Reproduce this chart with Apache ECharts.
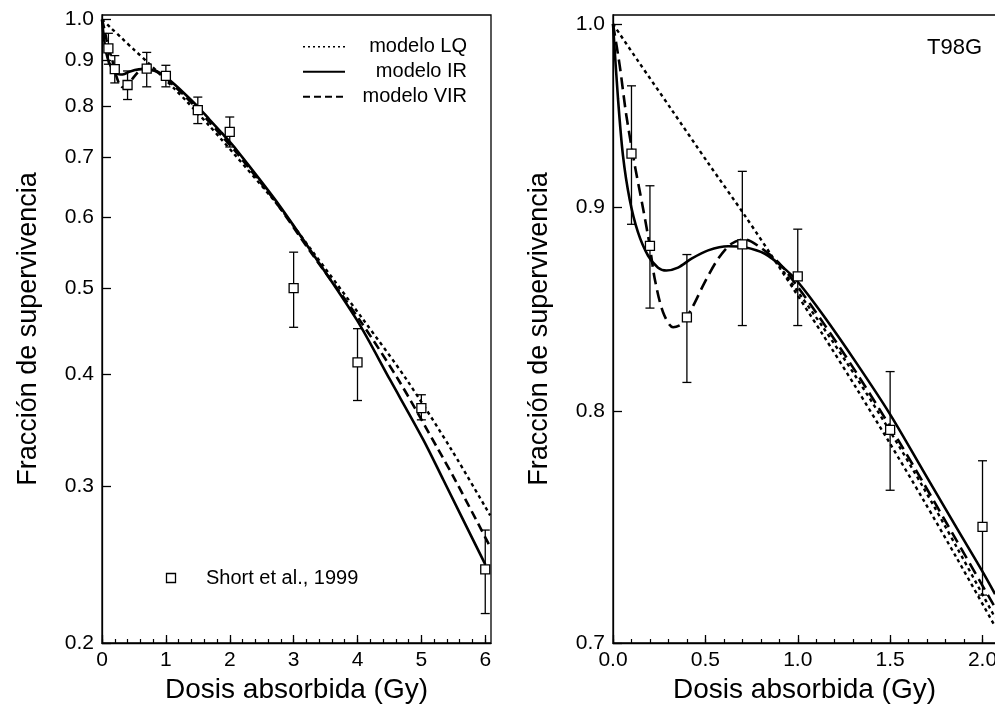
<!DOCTYPE html>
<html><head><meta charset="utf-8">
<script src="https://cdn.jsdelivr.net/npm/echarts@6/dist/echarts.min.js"></script>
<style>html,body{margin:0;padding:0;background:#fff}#c{width:995px;height:710px}</style>
</head><body><div id="c"></div>
<script>
// ---- Experimental data (Short et al., 1999) ----
const doseData  = [0.1, 0.2, 0.4, 0.7, 1.0, 1.5, 2.0, 3.0, 4.0, 5.0, 6.0];
const survData  = [0.928, 0.880, 0.8445, 0.8807, 0.8647, 0.7915, 0.7484, 0.500, 0.4126, 0.3667, 0.2418];
const survUpper = [0.965, 0.911, 0.8756, 0.9186, 0.8885, 0.8185, 0.7775, 0.5485, 0.4502, 0.3796, 0.2677];
const survLower = [0.891, 0.849, 0.8134, 0.8405, 0.8405, 0.7644, 0.7196, 0.4518, 0.374, 0.3558, 0.2158];

// ---- Model curves ----
const irDose = [0, 0.027, 0.054, 0.09, 0.135, 0.19, 0.244, 0.289, 0.352, 0.425, 0.515, 0.623, 0.713, 0.822, 0.93, 1.0, 1.138, 1.318, 1.499, 1.679, 1.86, 2.004, 2.068, 2.707, 3.255, 3.987, 4.509, 5.031, 5.345, 6.0];
const irSurv = [1.0, 0.958, 0.927, 0.904, 0.887, 0.875, 0.869, 0.8676, 0.869, 0.8735, 0.8777, 0.8798, 0.8793, 0.876, 0.8684, 0.862, 0.8455, 0.8225, 0.7987, 0.773, 0.748, 0.7289, 0.72, 0.6286, 0.5523, 0.4608, 0.3946, 0.3379, 0.3046, 0.245];

const virDose = [0, 0.036, 0.072, 0.118, 0.163, 0.199, 0.226, 0.271, 0.325, 0.37, 0.425, 0.497, 0.569, 0.641, 0.713, 0.786, 0.894, 1.002, 1.138, 1.318, 1.499, 1.679, 1.86, 2.068, 2.707, 3.255, 4.03, 4.64, 5.27, 5.53, 6.077];
const virSurv = [1.0, 0.9766, 0.9488, 0.9218, 0.899, 0.880, 0.8634, 0.847, 0.8397, 0.8412, 0.8486, 0.8618, 0.8735, 0.8811, 0.8833, 0.880, 0.8718, 0.8592, 0.8418, 0.8179, 0.7931, 0.7678, 0.7425, 0.7145, 0.626, 0.550, 0.4608, 0.3946, 0.329, 0.3046, 0.2564];

const lqDose = [0, 0.135, 0.316, 0.515, 0.713, 0.912, 1.138, 1.318, 1.499, 1.679, 1.86, 2.068, 2.707, 3.255, 4.09, 4.77, 5.476, 6.077];
const lqSurv = [1.0, 0.979, 0.952, 0.923, 0.8956, 0.8675, 0.8358, 0.8106, 0.7853, 0.7603, 0.7352, 0.7067, 0.625, 0.5545, 0.4608, 0.3946, 0.329, 0.278];

const lqAltDose = [0.9, 1.138, 1.318, 1.499, 1.679, 1.86, 2.068];
const lqAltSurv = [0.870, 0.8395, 0.8156, 0.7909, 0.7657, 0.7398, 0.7103];

// ---- Tick labels ----
const leftXTicks  = [0, 1, 2, 3, 4, 5, 6];
const rightXTicks = [0, 0.5, 1.0, 1.5, 2.0];
const leftYTicks  = [0.2, 0.3, 0.4, 0.5, 0.6, 0.7, 0.8, 0.9, 1.0];
const rightYTicks = [0.7, 0.8, 0.9, 1.0];

const FONT = 'Liberation Sans, Arial, sans-serif';
const LX_MAX = 6.09, RX_MAX = 2.073;
const LY_MIN = 0.2, LY_MAX = 1.0117, RY_MIN = 0.7, RY_MAX = 1.0052;

const pairs = (xs, ys, xmax) => xs.map((x, i) => [x, Math.log(ys[i])]).filter(p => p[0] <= xmax + 0.2);
const minorTicks = (step, n) => { const a = []; for (let i = 0; i <= n; i++) a.push(+(i * step).toFixed(3)); return a; };

const black = '#000';
function xAxes(gi, max, ticks, minorStep, minorN, fmt) {
  return [{
    gridIndex: gi, type: 'value', min: 0, max: max, position: 'bottom',
    axisLine: { onZero: false, lineStyle: { color: black, width: 1.3 } },
    axisTick: { inside: true, length: 8, customValues: ticks, lineStyle: { color: black, width: 1.3 } },
    axisLabel: { customValues: ticks, color: black, fontSize: 21, fontFamily: FONT, margin: 7, formatter: fmt, hideOverlap: false },
    splitLine: { show: false },
    name: 'Dosis absorbida (Gy)', nameLocation: 'middle', nameGap: 31,
    nameTextStyle: { color: black, fontSize: 28, fontFamily: FONT }
  }, {
    gridIndex: gi, type: 'value', min: 0, max: max, position: 'bottom',
    axisLine: { show: false, onZero: false },
    axisTick: { inside: true, length: 4, customValues: minorTicks(minorStep, minorN), lineStyle: { color: black, width: 1.2 } },
    axisLabel: { show: false }, splitLine: { show: false }
  }];
}
function yAxis(gi, min, max, ticks) {
  const vals = ticks.map(Math.log);
  return {
    gridIndex: gi, type: 'value', min: Math.log(min), max: Math.log(max), position: 'left',
    axisLine: { onZero: false, lineStyle: { color: black, width: 1.3 } },
    axisTick: { inside: true, length: 9, customValues: vals, lineStyle: { color: black, width: 1.3 } },
    axisLabel: { customValues: vals, color: black, fontSize: 21, fontFamily: FONT, margin: 8,
      formatter: v => Math.exp(v).toFixed(1) },
    splitLine: { show: false },
    name: 'Fracción de supervivencia', nameLocation: 'middle', nameGap: 60, nameRotate: 90,
    nameTextStyle: { color: black, fontSize: 27, fontFamily: FONT }
  };
}

function errRender(params, api) {
  const x = api.value(0), lo = api.value(1), hi = api.value(2);
  const a = api.coord([x, lo]), b = api.coord([x, hi]);
  const hw = 4.5;
  const style = { stroke: black, lineWidth: 1.3, fill: null };
  return { type: 'group', children: [
    { type: 'line', shape: { x1: a[0], y1: a[1], x2: b[0], y2: b[1] }, style },
    { type: 'line', shape: { x1: a[0] - hw, y1: a[1], x2: a[0] + hw, y2: a[1] }, style },
    { type: 'line', shape: { x1: b[0] - hw, y1: b[1], x2: b[0] + hw, y2: b[1] }, style }
  ]};
}

function panelSeries(xi, yi, xmax, dashVIR, withAlt) {
  const pts = doseData.map((d, i) => [d, Math.log(survData[i])]).filter(p => p[0] <= xmax);
  const errs = doseData.map((d, i) => [d, Math.log(survLower[i]), Math.log(survUpper[i])]).filter(p => p[0] <= xmax);
  const line = (name, xs, ys, type, dash, w) => ({
    name, type: 'line', xAxisIndex: xi, yAxisIndex: yi, data: pairs(xs, ys, xmax),
    showSymbol: false, smooth: 0.3, clip: true, z: 3,
    lineStyle: { color: black, width: w, type: dash || type }
  });
  const s = [
    line('modelo LQ', lqDose, lqSurv, 'dotted', [3.5, 3.5], 2.4),
    line('modelo VIR', virDose, virSurv, 'dashed', dashVIR, 2.6),
    line('modelo IR', irDose, irSurv, 'solid', null, 2.6),
    { name: 'err', type: 'custom', xAxisIndex: xi, yAxisIndex: yi, data: errs, renderItem: errRender,
      encode: { x: 0, y: [1, 2] }, z: 4, clip: true },
    { name: 'Short et al., 1999', type: 'scatter', xAxisIndex: xi, yAxisIndex: yi, data: pts,
      symbol: 'rect', symbolSize: 9, z: 5,
      itemStyle: { color: '#fff', borderColor: black, borderWidth: 1.3, opacity: 1 } }
  ];
  if (withAlt) s.splice(1, 0, line('modelo LQ (2)', lqAltDose, lqAltSurv, 'dotted', [3.5, 3.5], 2.4));
  return s;
}

const chart = echarts.init(document.getElementById('c'), null, { renderer: 'canvas' });
const legendY = [46.7, 71.7, 96.7];
const legendRows = [
  { label: 'modelo LQ', dash: [2, 3], w: 1.6 },
  { label: 'modelo IR', dash: null, w: 2 },
  { label: 'modelo VIR', dash: [7, 4], w: 2 }
];
const graphics = [];
legendRows.forEach((r, i) => {
  graphics.push({ type: 'line', shape: { x1: 303, y1: legendY[i], x2: 345, y2: legendY[i] },
    style: { stroke: black, lineWidth: r.w, lineDash: r.dash || null }, z: 10 });
  graphics.push({ type: 'text', x: 467, y: legendY[i],
    style: { text: r.label, fill: black, font: '20px ' + FONT, textAlign: 'right', textVerticalAlign: 'middle' }, z: 10 });
});
graphics.push({ type: 'rect', shape: { x: 166.5, y: 573.5, width: 9, height: 9 },
  style: { fill: '#fff', stroke: black, lineWidth: 1.3 }, z: 10 });
graphics.push({ type: 'text', x: 206, y: 578,
  style: { text: 'Short et al., 1999', fill: black, font: '20px ' + FONT, textVerticalAlign: 'middle' }, z: 10 });
graphics.push({ type: 'text', x: 982, y: 47.5,
  style: { text: 'T98G', fill: black, font: '22px ' + FONT, textAlign: 'right', textVerticalAlign: 'middle' }, z: 10 });

chart.setOption({
  animation: false,
  backgroundColor: '#fff',
  grid: [
    { left: 102, top: 15, width: 389, height: 628, show: true, borderColor: black, borderWidth: 1.3, containLabel: false, outerBoundsMode: 'none' },
    { left: 613, top: 15, width: 383, height: 628, show: true, borderColor: black, borderWidth: 1.3, containLabel: false, outerBoundsMode: 'none' }
  ],
  xAxis: [
    ...xAxes(0, LX_MAX, leftXTicks, 0.2, 30, v => String(Math.round(v))),
    ...xAxes(1, RX_MAX, rightXTicks, 0.1, 20, v => v.toFixed(1))
  ],
  yAxis: [ yAxis(0, LY_MIN, LY_MAX, leftYTicks), yAxis(1, RY_MIN, RY_MAX, rightYTicks) ],
  series: [
    ...panelSeries(0, 0, LX_MAX, [9, 5], false),
    ...panelSeries(2, 1, RX_MAX, [12, 6], true)
  ],
  graphic: graphics
});
</script></body></html>
